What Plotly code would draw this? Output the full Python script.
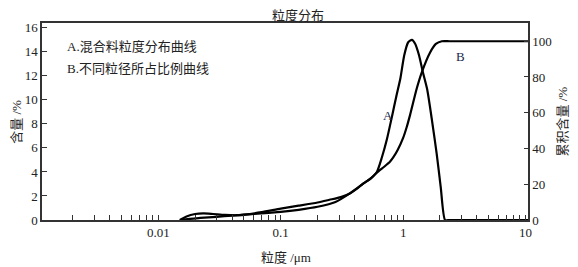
import plotly.graph_objects as go

# Curve A: 混合料粒度分布曲线 (content %, left axis)
a_size = [0.015, 0.017, 0.02, 0.0234, 0.028, 0.035, 0.045, 0.06, 0.08, 0.1, 0.14, 0.2, 0.28,
          0.37, 0.47, 0.54, 0.61, 0.67, 0.736, 0.81, 0.88, 0.95, 1.02, 1.1, 1.18, 1.25, 1.35,
          1.45, 1.57, 1.72, 1.88, 2.03, 2.2, 2.4, 5.0, 11.0]
a_val = [0.0, 0.3, 0.5, 0.55, 0.5, 0.42, 0.4, 0.5, 0.6, 0.68, 0.85, 1.1, 1.5,
         2.24, 3.0, 3.44, 4.0, 5.2, 6.7, 8.6, 10.3, 11.8, 13.7, 14.8, 15.0, 14.7, 13.7,
         12.3, 10.9, 8.3, 5.5, 2.7, 0.0, 0.0, 0.0, 0.0]

# Curve B: 不同粒径所占比例曲线 (cumulative %, right axis)
b_size = [0.015, 0.018, 0.022, 0.03, 0.04, 0.05, 0.07, 0.1, 0.14, 0.2, 0.25, 0.31, 0.37,
          0.42, 0.47, 0.54, 0.61, 0.7, 0.78, 0.83, 0.9, 1.0, 1.07, 1.14, 1.29, 1.42, 1.66,
          1.85, 2.07, 2.4, 5.0, 11.0]
b_val = [0.0, 0.6, 1.2, 1.8, 2.4, 3.0, 4.4, 6.4, 8.0, 9.8, 11.3, 12.8, 15.0,
         17.5, 20.4, 23.0, 26.5, 29.8, 32.6, 35.0, 39.0, 45.9, 52.0, 58.8, 73.4, 82.6, 93.7,
         98.5, 100.0, 100.0, 100.0, 100.0]

x_decades = [0.001, 0.01, 0.1, 1, 10]
x_labels = {0.01: "0.01", 0.1: "0.1", 1: "1", 10: "10"}
y_left_ticks = [0, 2, 4, 6, 8, 10, 12, 14, 16]
y_right_ticks = [0, 20, 40, 60, 80, 100]

title_text = "粒度分布"
x_title = "粒度 /μm"
y_left_title = "含量 /%"
y_right_title = "累积含量 /%"
legend_lines = ["A.混合料粒度分布曲线", "B.不同粒径所占比例曲线"]

tick_vals, tick_text = [], []
for d in x_decades:
    for m in range(1, 10):
        v = round(d * m, 6)
        if v < 0.0011 or v > 10.5:
            continue
        tick_vals.append(v)
        tick_text.append(x_labels.get(v, ""))

FONT = "Liberation Serif, Noto Sans CJK SC, serif"
TXT = "#222222"
LINE = "#333333"

fig = go.Figure()
fig.add_trace(go.Scatter(x=a_size, y=a_val, mode="lines",
                         line=dict(color="black", width=2.2, shape="spline", smoothing=0.6),
                         yaxis="y", showlegend=False))
fig.add_trace(go.Scatter(x=b_size, y=b_val, mode="lines",
                         line=dict(color="black", width=2.2, shape="spline", smoothing=0.6),
                         yaxis="y2", showlegend=False))

# page has an 8px body margin: figure is offset by 8px, so compensate
fig.update_layout(
    width=570, height=259,
    margin=dict(l=34, r=50, t=12, b=47),
    paper_bgcolor="white", plot_bgcolor="white",
    font=dict(family=FONT, size=13, color=TXT),
    xaxis=dict(type="log", range=[-2.95, 1.02], tickvals=tick_vals, ticktext=tick_text,
               ticks="inside", ticklen=5, tickwidth=1, tickcolor=LINE,
               showline=True, linecolor=LINE, linewidth=1.5, mirror=True,
               showgrid=False, zeroline=False, tickfont=dict(size=13, family=FONT)),
    yaxis=dict(range=[0, 16.4], tickvals=y_left_ticks, ticks="inside", ticklen=5,
               tickcolor=LINE, showline=True, linecolor=LINE, linewidth=1.5,
               showgrid=False, zeroline=False, tickfont=dict(size=13, family=FONT)),
    yaxis2=dict(range=[0, 110.2], tickvals=y_right_ticks, ticks="inside", ticklen=4,
                tickcolor=LINE, showline=True, linecolor=LINE, linewidth=1.5,
                overlaying="y", side="right", showgrid=False, zeroline=False,
                tickfont=dict(size=13, family=FONT)),
)

ann = [
    dict(text=title_text, xref="paper", yref="paper", x=0.527, y=1.04, showarrow=False,
         xanchor="center", yanchor="middle", font=dict(size=13)),
    dict(text=x_title, xref="paper", yref="paper", x=0.502, y=-0.19, showarrow=False,
         xanchor="center", yanchor="middle", font=dict(size=13)),
    dict(text=y_left_title, xref="paper", yref="paper", x=-0.053, y=0.5, showarrow=False,
         textangle=-90, xanchor="center", yanchor="middle", font=dict(size=13)),
    dict(text=y_right_title, xref="paper", yref="paper", x=1.07, y=0.5, showarrow=False,
         textangle=-90, xanchor="center", yanchor="middle", font=dict(size=13)),
    dict(text=legend_lines[0], xref="paper", yref="paper", x=0.047, y=0.88, showarrow=False,
         xanchor="left", yanchor="middle", font=dict(size=13)),
    dict(text=legend_lines[1], xref="paper", yref="paper", x=0.047, y=0.77, showarrow=False,
         xanchor="left", yanchor="middle", font=dict(size=13)),
    dict(text="A", x=-0.122, y=8.7, xref="x", yref="y", showarrow=False,
         font=dict(size=13, color="#1a1f4a")),
    dict(text="B", x=0.465, y=91.5, xref="x", yref="y2", showarrow=False,
         font=dict(size=13, color="#1a1f4a")),
]
fig.update_layout(annotations=ann)

fig.write_html("out.html")
